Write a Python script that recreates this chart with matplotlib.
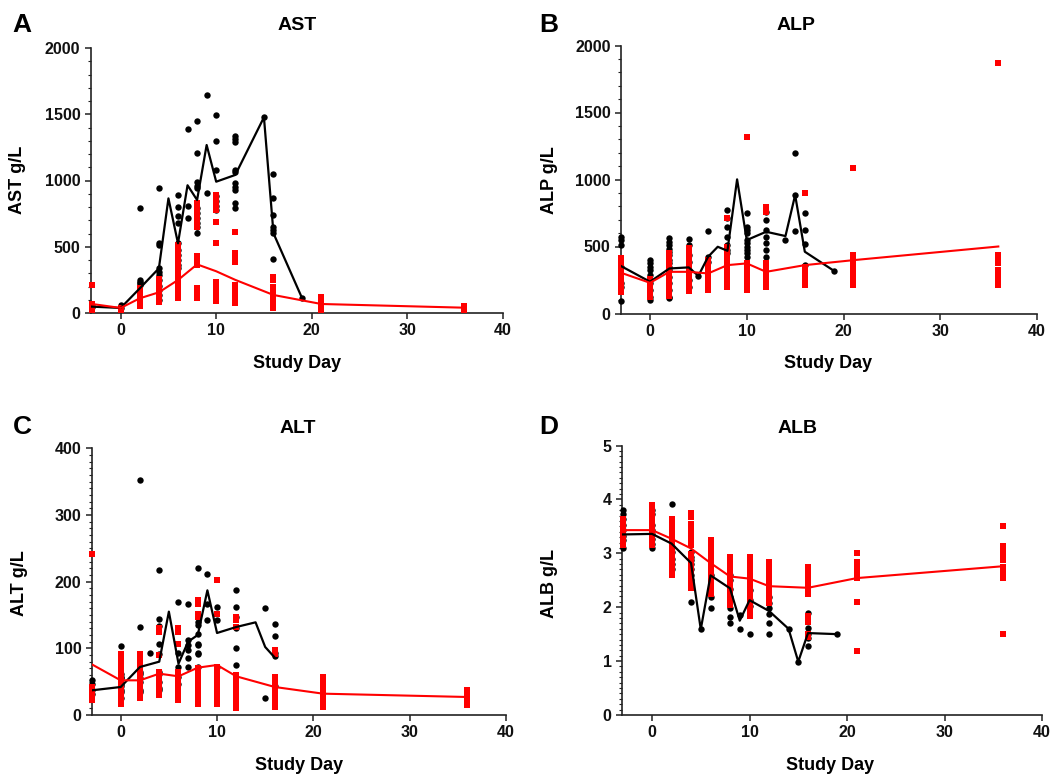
import numpy as np
import matplotlib
matplotlib.use("Agg")
from matplotlib import pyplot as plt
from matplotlib.ticker import MultipleLocator

plt.rcParams['font.family'] = ['Liberation Sans', 'DejaVu Sans']

# ---------------- AST ----------------
ast_blk_days = [-3, 0, 2, 4, 6, 7, 8, 9, 10, 12, 15, 16, 19]
ast_blk_pts = [
    [50, 45],
    [60, 38],
    [790, 250, 235, 225, 215],
    [946, 528, 513, 337, 312, 287, 249, 206, 174, 136, 98],
    [891, 802, 732, 677, 526, 476, 438, 400, 362, 337],
    [1389, 808, 715],
    [1451, 1205, 985, 960, 943, 790, 752, 715, 682, 651, 606],
    [1648, 903],
    [1494, 1301, 1079, 880, 846, 811, 777],
    [1338, 1313, 1288, 1081, 1061, 983, 950, 925, 830, 792],
    [1477],
    [1049, 865, 740, 651, 626, 601, 408],
    [111],
]
ast_red_days = [-3, 0, 2, 4, 6, 8, 10, 12, 16, 21, 36]
ast_red_pts = [
    [211, 68, 50, 38, 25],
    [38, 25],
    [190, 160, 130, 100, 75, 50],
    [260, 230, 200, 170, 140, 110, 85],
    [510, 470, 430, 390, 350, 310, 270, 230, 190, 150, 113],
    [828, 790, 750, 710, 670, 651, 430, 395, 360, 185, 150, 115],
    [890, 850, 810, 777, 689, 526, 236, 200, 165, 149, 123, 90],
    [614, 450, 415, 387, 211, 180, 150, 120, 90, 73],
    [274, 249, 199, 170, 149, 123, 95, 65, 40],
    [120, 95, 70, 45, 25],
    [50, 35, 22],
]
ast_blk_line_x = [-3, 0, 2, 4, 5, 6, 7, 8, 9, 10, 12, 15, 16, 19]
ast_blk_line_y = [48, 38, 186, 337, 865, 526, 964, 853, 1268, 991, 1042, 1477, 601, 111]
ast_red_line_x = [-3, 0, 2, 4, 6, 8, 10, 12, 16, 21, 36]
ast_red_line_y = [68, 38, 111, 156, 249, 367, 315, 250, 136, 68, 40]

# ---------------- ALP ----------------
alp_blk_days = [-3, 0, 2, 4, 5, 6, 8, 10, 12, 14, 15, 16, 19]
alp_blk_pts = [
    [573, 548, 511, 349, 224, 199, 95],
    [398, 374, 349, 324, 286, 224, 174, 125, 100],
    [560, 535, 510, 485, 460, 436, 398, 374, 349, 324, 274, 224, 174, 125, 112],
    [553, 510, 436, 386, 324, 249, 199],
    [281],
    [615, 423, 386],
    [772, 710, 647, 568, 510, 473, 448],
    [752, 647, 622, 598, 548, 523, 498, 473, 448, 423],
    [759, 697, 622, 573, 523, 473, 423],
    [548],
    [1195, 884, 617],
    [752, 622, 518, 361],
    [319],
]
alp_red_days = [-3, 0, 2, 4, 6, 8, 10, 12, 16, 21, 36]
alp_red_pts = [
    [411, 370, 349, 300, 274, 224, 190, 162],
    [261, 230, 212, 180, 149, 124],
    [448, 410, 370, 330, 290, 250, 210, 170, 130],
    [486, 450, 410, 370, 330, 290, 250, 210, 170],
    [398, 360, 320, 280, 240, 200, 174],
    [710, 498, 460, 420, 380, 340, 300, 260, 224, 199],
    [1315, 374, 340, 300, 260, 220, 174],
    [797, 760, 374, 340, 300, 260, 220, 199],
    [901, 349, 310, 270, 240, 212],
    [1083, 436, 400, 360, 320, 280, 240, 212],
    [1872, 436, 400, 374, 324, 290, 250, 212],
]
alp_blk_line_x = [-3, 0, 2, 4, 5, 6, 7, 8, 9, 10, 12, 14, 15, 16, 19]
alp_blk_line_y = [354, 237, 336, 344, 281, 423, 498, 468, 1001, 548, 610, 578, 884, 461, 319]
alp_red_line_x = [-3, 0, 2, 4, 6, 8, 10, 12, 16, 21, 36]
alp_red_line_y = [304, 229, 311, 311, 299, 361, 374, 311, 361, 398, 500]

# ---------------- ALT ----------------
alt_blk_days = [-3, 0, 2, 3, 4, 6, 7, 8, 9, 10, 12, 15, 16]
alt_blk_pts = [
    [52, 47, 37, 31],
    [104, 62, 57, 55, 47, 43, 37, 35, 25],
    [352, 132, 65, 61, 55, 50, 37, 35],
    [93],
    [217, 144, 133, 106, 91, 65, 62, 50, 40, 37],
    [169, 93, 72, 57, 47],
    [167, 112, 105, 97, 85, 72],
    [221, 140, 135, 122, 107, 105, 93, 91, 72],
    [212, 167, 142],
    [162, 142, 72],
    [188, 162, 147, 130, 100, 75],
    [160, 25],
    [136, 119, 93, 88, 43],
]
alt_red_days = [-3, 0, 2, 4, 6, 8, 10, 12, 16, 21, 36]
alt_red_pts = [
    [241, 42, 35, 28, 22],
    [92, 84, 76, 68, 60, 52, 44, 36, 28, 20, 17],
    [92, 84, 76, 68, 60, 52, 44, 36, 28, 25],
    [130, 125, 90, 65, 57, 49, 41, 33, 30],
    [130, 125, 107, 65, 57, 49, 41, 33, 25, 22],
    [172, 167, 152, 147, 70, 62, 54, 46, 38, 30, 22, 17],
    [202, 152, 72, 64, 56, 48, 40, 32, 24, 17],
    [147, 142, 132, 60, 52, 44, 36, 28, 20, 12, 10],
    [97, 92, 57, 49, 41, 33, 25, 17, 12],
    [57, 49, 41, 33, 25, 17, 12],
    [37, 30, 22, 15],
]
alt_blk_line_x = [-3, 0, 2, 4, 5, 6, 7, 8, 9, 10, 12, 14, 15, 16]
alt_blk_line_y = [37, 42, 72, 80, 155, 77, 110, 120, 187, 123, 132, 139, 102, 86]
alt_red_line_x = [-3, 0, 2, 4, 6, 8, 10, 12, 16, 21, 36]
alt_red_line_y = [76, 52, 52, 62, 58, 71, 75, 58, 42, 32, 27]

# ---------------- ALB ----------------
alb_blk_days = [-3, 0, 2, 4, 5, 6, 8, 9, 10, 12, 14, 15, 16, 19]
alb_blk_pts = [
    [3.81, 3.73, 3.64, 3.52, 3.43, 3.33, 3.24, 3.10],
    [3.81, 3.73, 3.52, 3.44, 3.36, 3.27, 3.18, 3.10],
    [3.91, 3.12, 3.02, 2.90, 2.80, 2.70],
    [3.02, 2.94, 2.87, 2.80, 2.70, 2.59, 2.50, 2.10],
    [1.59],
    [2.59, 2.19, 1.99],
    [2.59, 2.50, 2.33, 2.19, 1.99, 1.81, 1.70],
    [1.85, 1.59],
    [2.31, 2.13, 2.02, 1.50],
    [2.19, 2.07, 1.99, 1.87, 1.70, 1.50],
    [1.60],
    [0.99],
    [1.90, 1.62, 1.51, 1.42, 1.28],
    [1.50],
]
alb_red_days = [-3, 0, 2, 4, 6, 8, 10, 12, 16, 21, 36]
alb_red_pts = [
    [3.64, 3.55, 3.45, 3.35, 3.25, 3.15],
    [3.89, 3.80, 3.70, 3.60, 3.50, 3.40, 3.30, 3.20, 3.15],
    [3.64, 3.55, 3.45, 3.35, 3.25, 3.15, 3.05, 2.95, 2.85, 2.75, 2.65, 2.59],
    [3.75, 3.67, 3.55, 3.45, 3.35, 3.25, 3.15, 2.99, 2.90, 2.80, 2.70, 2.60, 2.50, 2.40, 2.35],
    [3.24, 3.15, 3.06, 2.95, 2.85, 2.75, 2.65, 2.55, 2.45, 2.35, 2.25],
    [2.94, 2.85, 2.75, 2.65, 2.55, 2.45, 2.35, 2.25, 2.15, 2.04],
    [2.94, 2.85, 2.75, 2.65, 2.55, 2.45, 2.35, 2.25, 2.15, 2.05, 1.95, 1.83],
    [2.84, 2.75, 2.65, 2.55, 2.45, 2.35, 2.25, 2.15, 2.07],
    [2.75, 2.65, 2.55, 2.45, 2.35, 2.25, 1.83, 1.73, 1.51, 1.45],
    [3.01, 2.84, 2.75, 2.65, 2.54, 2.10, 1.19],
    [3.51, 3.14, 3.05, 2.95, 2.88, 2.75, 2.65, 2.55, 1.50],
]
alb_blk_line_x = [-3, 0, 2, 4, 5, 6, 8, 9, 10, 12, 14, 15, 16, 19]
alb_blk_line_y = [3.35, 3.36, 3.18, 2.82, 1.59, 2.59, 2.35, 1.75, 2.13, 1.93, 1.60, 0.99, 1.52, 1.50]
alb_red_line_x = [-3, 0, 2, 4, 6, 8, 10, 12, 16, 21, 36]
alb_red_line_y = [3.43, 3.43, 3.27, 3.09, 2.82, 2.57, 2.53, 2.39, 2.36, 2.54, 2.76]

W, H = 1054, 780


def flat(days, pts):
    xs, ys = [], []
    for d, p in zip(days, pts):
        xs += [d] * len(p)
        ys += list(p)
    return np.array(xs), np.array(ys)


def panel(fig, box, xlim, ylim, ystep, yminor, bd, bp, rd, rp, blx, bly, rlx, rly):
    # box in pixels: left, right, top, bottom
    l, r, t, b = box
    ax = fig.add_axes([l / W, 1 - b / H, (r - l) / W, (b - t) / H])
    x, y = flat(bd, bp)
    ax.plot(x, y, 'o', color='black', ms=4.6, mew=0, zorder=3, clip_on=False)
    x, y = flat(rd, rp)
    ax.plot(x, y, 's', color='#ff0000', ms=5.0, mew=0, zorder=4, clip_on=False)
    ax.plot(blx, bly, '-', color='black', lw=1.6, zorder=5)
    ax.plot(rlx, rly, '-', color='#ff0000', lw=1.5, zorder=6)
    ax.set_xlim(*xlim)
    ax.set_ylim(*ylim)
    ax.set_xticks([0, 10, 20, 30, 40])
    ax.yaxis.set_major_locator(MultipleLocator(ystep))
    ax.yaxis.set_minor_locator(MultipleLocator(yminor))
    for s in ['top', 'right']:
        ax.spines[s].set_visible(False)
    for s in ['left', 'bottom']:
        ax.spines[s].set_linewidth(1.2)
        ax.spines[s].set_color('#222222')
    ax.tick_params(axis='both', which='major', labelsize=11.5, length=4, width=1.1, color='#222222')
    ax.tick_params(axis='y', which='minor', length=2.5, width=0.8, color='#222222')
    for lab in ax.get_xticklabels() + ax.get_yticklabels():
        lab.set_fontweight('bold')
        lab.set_color('#111111')
    return ax


fig = plt.figure(figsize=(W / 100, H / 100), dpi=100)

panel(fig, (90.7, 502.7, 48, 313), (-3.14, 40), (0, 2000), 500, 100,
      ast_blk_days, ast_blk_pts, ast_red_days, ast_red_pts,
      ast_blk_line_x, ast_blk_line_y, ast_red_line_x, ast_red_line_y)
panel(fig, (621, 1037, 45.5, 313.5), (-3.0, 40), (0, 2000), 500, 100,
      alp_blk_days, alp_blk_pts, alp_red_days, alp_red_pts,
      alp_blk_line_x, alp_blk_line_y, alp_red_line_x, alp_red_line_y)
panel(fig, (92, 506, 448.3, 715), (-2.98, 40), (0, 400), 100, 10,
      alt_blk_days, alt_blk_pts, alt_red_days, alt_red_pts,
      alt_blk_line_x, alt_blk_line_y, alt_red_line_x, alt_red_line_y)
panel(fig, (622, 1042, 445.5, 715), (-3.08, 40), (0, 5), 1, 0.1,
      alb_blk_days, alb_blk_pts, alb_red_days, alb_red_pts,
      alb_blk_line_x, alb_blk_line_y, alb_red_line_x, alb_red_line_y)


def ftxt(x, y, s, **kw):
    fig.text(x / W, 1 - y / H, s, ha='center', va='center', fontweight='bold', **kw)


for letter, lx, ly in [('A', 22, 25), ('B', 549, 25), ('C', 22, 427), ('D', 549, 427)]:
    ftxt(lx, ly, letter, fontsize=19)
for title, tx, ty in [('AST', 297, 25), ('ALP', 796, 25), ('ALT', 298, 428), ('ALB', 798, 428)]:
    ftxt(tx, ty, title, fontsize=14)
for lab, yx, yy in [('AST g/L', 18, 180), ('ALP g/L', 549, 180), ('ALT g/L', 20, 583), ('ALB g/L', 549, 583)]:
    ftxt(yx, yy, lab, fontsize=13, rotation=90)
for xx, xy in [(297, 363), (828, 363), (299, 765), (830, 765)]:
    ftxt(xx, xy, 'Study Day', fontsize=13)

fig.savefig('out.png', dpi=100)
